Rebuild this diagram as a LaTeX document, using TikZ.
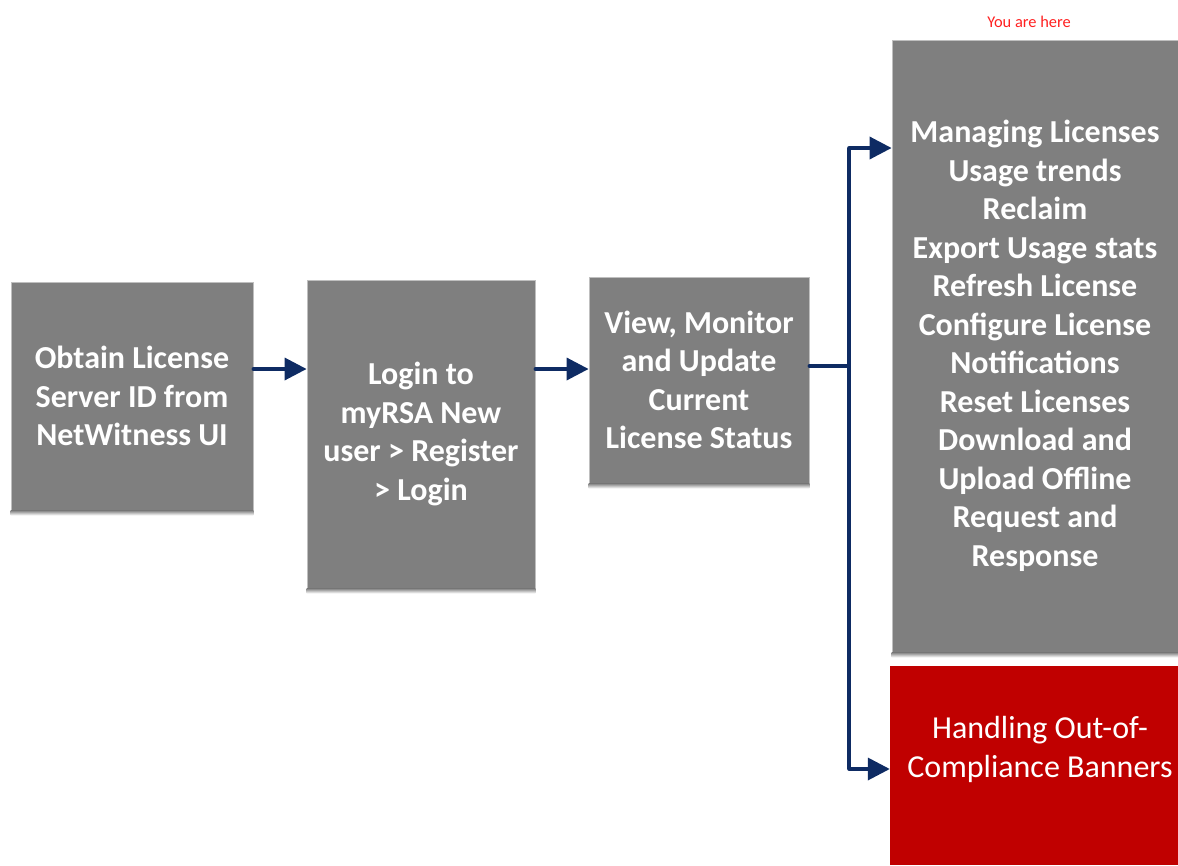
\documentclass[tikz,border=0pt]{standalone}
\usepackage{fontspec}
\setmainfont{Carlito}
\usetikzlibrary{arrows.meta}
\definecolor{boxgray}{HTML}{7F7F7F}
\definecolor{edgegray}{HTML}{BFBFBF}
\definecolor{shade}{HTML}{DAE5F3}
\definecolor{navy}{HTML}{0E2B63}
\definecolor{alarm}{HTML}{C00000}
\definecolor{herered}{HTML}{FF2020}
\begin{document}
\begin{tikzpicture}[x=1pt,y=-1pt,
    stepbox/.style={rectangle,fill=boxgray,draw=edgegray,line width=0.8pt,text=white,
        align=center,inner sep=0pt,font=\fontsize{32}{38.5}\selectfont\bfseries},
    flow/.style={navy,line width=3.6pt,line cap=round,-{Triangle[length=22pt,width=22pt]}}]
    \useasboundingbox (0,0) rectangle (1178,865);

    % the steps, left to right
    \node[stepbox,minimum width=242pt,minimum height=228pt] (obtain) at (132,396)
        {Obtain License\\Server ID from\\NetWitness UI};
    \node[stepbox,minimum width=228pt,minimum height=308pt] (login) at (421,434)
        {Login to\\myRSA New\\user > Register\\> Login};
    \node[stepbox,minimum width=220pt,minimum height=206pt] (status) at (699,380)
        {View, Monitor\\and Update\\Current\\License Status};
    \node[stepbox,minimum width=286pt,minimum height=612pt] (manage) at (1035,346)
        {Managing Licenses\\Usage trends\\Reclaim\\Export Usage stats\\Refresh License\\
         Configure License\\Notifications\\Reset Licenses\\Download and\\Upload Offline\\
         Request and\\Response};
    \node[rectangle,fill=alarm,minimum width=288pt,minimum height=199pt,inner sep=0pt]
        (banner) at (1034,765.5) {};
    \node[text=white,align=center,font=\fontsize{32}{38.5}\selectfont] (bannertext)
        at (1040,749.5) {Handling Out-of-\\Compliance Banners};
    \node[text=herered,font=\fontsize{16.4}{18}\selectfont] (here) at (1029,22) {You are here};

    % light strips under the grey boxes
    \foreach \b in {obtain,login,status,manage}
        \fill[shade] (\b.south west) rectangle ([yshift=-5pt]\b.south east);

    % connectors
    \coordinate (split) at (849,366);
    \coordinate (up) at (849,148);
    \coordinate (down) at (849,769);
    \draw[flow] ([yshift=27pt]obtain.east) -- ([yshift=27pt]obtain.east -| login.west);
    \draw[flow] ([yshift=65pt]login.east) -- ([yshift=65pt]login.east -| status.west);
    \draw[navy,line width=3.6pt,line cap=round] ([yshift=14pt]status.east) -- (split);
    \draw[navy,line width=3.6pt] (up) -- (down);
    \draw[flow] (up) -- (up -| manage.west);
    \draw[flow] (down) -- (down -| banner.west);
\end{tikzpicture}
\end{document}
